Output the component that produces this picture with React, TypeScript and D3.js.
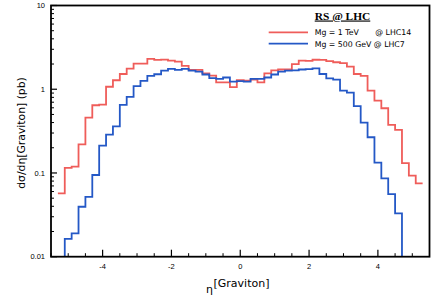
import React from "react";
import * as d3 from "d3";

const W = 436;
const H = 308;

// histogram bin edges in eta
const etaEdges = [
  -5.3, -5.1, -4.9, -4.7, -4.5, -4.3, -4.1, -3.9, -3.7, -3.5, -3.3, -3.1, -2.9, -2.7,
  -2.5, -2.3, -2.1, -1.9, -1.7, -1.5, -1.3, -1.1, -0.9, -0.7, -0.5, -0.3, -0.1, 0.1,
  0.3, 0.5, 0.7, 0.9, 1.1, 1.3, 1.5, 1.7, 1.9, 2.1, 2.3, 2.5, 2.7, 2.9, 3.1, 3.3, 3.5,
  3.7, 3.9, 4.1, 4.3, 4.5, 4.7, 4.9, 5.1, 5.3,
];

// Mg = 1 TeV @ LHC14
const lhc14 = [
  0.057, 0.115, 0.119, 0.22, 0.458, 0.644, 0.655, 1.07, 1.28, 1.52, 1.76, 2.02, 2.02,
  2.3, 2.24, 2.26, 2.2, 2.14, 1.9, 1.7, 1.7, 1.55, 1.45, 1.21, 1.21, 1.06, 1.28, 1.27,
  1.3, 1.21, 1.55, 1.68, 1.72, 1.72, 1.99, 2.2, 2.18, 2.25, 2.24, 2.17, 2.1, 2.05, 1.86,
  1.52, 1.44, 0.96, 0.73, 0.593, 0.375, 0.327, 0.131, 0.093, 0.075,
];

// Mg = 500 GeV @ LHC7
const lhc7 = [
  0, 0.0163, 0.019, 0.0395, 0.0517, 0.0946, 0.212, 0.287, 0.361, 0.649, 0.809, 1.09,
  1.26, 1.44, 1.51, 1.67, 1.75, 1.7, 1.75, 1.67, 1.62, 1.5, 1.36, 1.33, 1.38, 1.23, 1.25,
  1.23, 1.33, 1.33, 1.38, 1.5, 1.62, 1.67, 1.68, 1.72, 1.74, 1.77, 1.52, 1.35, 1.3, 0.96,
  0.91, 0.63, 0.4, 0.267, 0.133, 0.086, 0.056, 0.033, 0, 0, 0,
];

const xMajorTicks = [-4, -2, 0, 2, 4];
const xMinorTicks = [-5.5, -5, -4.5, -3.5, -3, -2.5, -1.5, -1, -0.5, 0.5, 1, 1.5, 2.5, 3, 3.5, 4.5, 5, 5.5];
const yMajorTicks = [0.01, 0.1, 1, 10];
const yTickLabels = ["0.01", "0.1", "1", "10"];
const xTickLabels = ["-4", "-2", "0", "2", "4"];

const legendTitle = "RS @ LHC";
const seriesLabels = ["Mg = 1 TeV", "Mg = 500 GeV @ LHC7"];
const seriesSuffix = ["@ LHC14", ""];

const RED = "#ef5d5a";
const BLUE = "#2458c6";

const plot = { left: 51, right: 429.5, top: 5.5, bottom: 256.7 };

const x = d3.scaleLinear().domain([-5.5, 5.5]).range([plot.left, plot.right]);
const y = d3.scaleLog().domain([0.01, 10]).range([plot.bottom, plot.top]);

function stepPath(vals: number[]): string {
  const yb = plot.bottom;
  const p = d3.path();
  let drawing = false;
  for (let i = 0; i < vals.length; i++) {
    const v = vals[i];
    const x0 = x(etaEdges[i]);
    const x1 = x(etaEdges[i + 1]);
    if (v > 0) {
      if (!drawing) {
        if (i > 0) {
          p.moveTo(x0, yb);
          p.lineTo(x0, y(v));
        } else {
          p.moveTo(x0, y(v));
        }
        drawing = true;
      } else {
        p.lineTo(x0, y(v));
      }
      p.lineTo(x1, y(v));
    } else if (drawing) {
      p.lineTo(x0, yb);
      drawing = false;
    }
  }
  return p.toString();
}

const yMinor: number[] = [];
[0.01, 0.1, 1].forEach((d) => {
  for (let m = 2; m <= 9; m++) yMinor.push(d * m);
});

const FONT = "'DejaVu Sans', sans-serif";
const TICKFONT = "'Liberation Sans', Arial, sans-serif";

export default function App() {
  return (
    <svg
      width={W}
      height={H}
      style={{ position: "absolute", left: 0, top: 0, background: "#fff" }}
    >
      <rect x={0} y={0} width={W} height={H} fill="#fff" />
      {/* histograms */}
      <path d={stepPath(lhc14)} fill="none" stroke={RED} strokeWidth={1.8} />
      <path d={stepPath(lhc7)} fill="none" stroke={BLUE} strokeWidth={1.8} />

      {/* frame */}
      <rect
        x={plot.left}
        y={plot.top}
        width={plot.right - plot.left}
        height={plot.bottom - plot.top}
        fill="none"
        stroke="#000"
        strokeWidth={1.8}
      />

      {/* y ticks */}
      {yMajorTicks.map((t, i) => (
        <g key={"ym" + t}>
          <line x1={plot.left} x2={plot.left + 6} y1={y(t)} y2={y(t)} stroke="#000" strokeWidth={1.2} />
          <text
            x={45}
            y={y(t)}
            dy="0.35em"
            textAnchor="end"
            fontFamily={TICKFONT}
            fontSize={7.5}
            fill="#000"
          >
            {yTickLabels[i]}
          </text>
        </g>
      ))}
      {yMinor.map((t) => (
        <line key={"yn" + t} x1={plot.left} x2={plot.left + 3} y1={y(t)} y2={y(t)} stroke="#000" strokeWidth={1} />
      ))}

      {/* x ticks */}
      {xMajorTicks.map((t, i) => (
        <g key={"xm" + t}>
          <line x1={x(t)} x2={x(t)} y1={plot.bottom} y2={plot.bottom - 7} stroke="#000" strokeWidth={1.2} />
          <text
            x={x(t)}
            y={269.3}
            textAnchor="middle"
            fontFamily={TICKFONT}
            fontSize={7.5}
            fill="#000"
          >
            {xTickLabels[i]}
          </text>
        </g>
      ))}
      {xMinorTicks.map((t) => (
        <line key={"xn" + t} x1={x(t)} x2={x(t)} y1={plot.bottom} y2={plot.bottom - 3.5} stroke="#000" strokeWidth={1} />
      ))}

      {/* x title */}
      <text x={206} y={292.5} fontFamily={FONT} fontSize={11} fill="#000">
        η
      </text>
      <text x={213.5} y={286.5} fontFamily={FONT} fontSize={11} fill="#000">
        [Graviton]
      </text>

      {/* y title */}
      <text
        transform="translate(24.5,133) rotate(-90)"
        textAnchor="middle"
        fontFamily={FONT}
        fontSize={10.8}
        fill="#000"
      >
        dσ/dη[Graviton] (pb)
      </text>

      {/* legend */}
      <text
        x={342.5}
        y={19.5}
        textAnchor="middle"
        fontFamily="'Liberation Serif', 'Times New Roman', serif"
        fontWeight="bold"
        fontSize={11.4}
        fill="#000"
        textDecoration="underline"
      >
        {legendTitle}
      </text>
      {[RED, BLUE].map((c, i) => (
        <g key={"lg" + i}>
          <line x1={268.7} x2={308} y1={32.3 + i * 11.4} y2={32.3 + i * 11.4} stroke={c} strokeWidth={1.8} />
          <text x={314.7} y={35.2 + i * 11.4} fontFamily={FONT} fontSize={7.8} fill="#000">
            {seriesLabels[i]}
          </text>
          {seriesSuffix[i] ? (
            <text x={375.3} y={35.2 + i * 11.4} fontFamily={FONT} fontSize={7.8} fill="#000">
              {seriesSuffix[i]}
            </text>
          ) : null}
        </g>
      ))}
    </svg>
  );
}
